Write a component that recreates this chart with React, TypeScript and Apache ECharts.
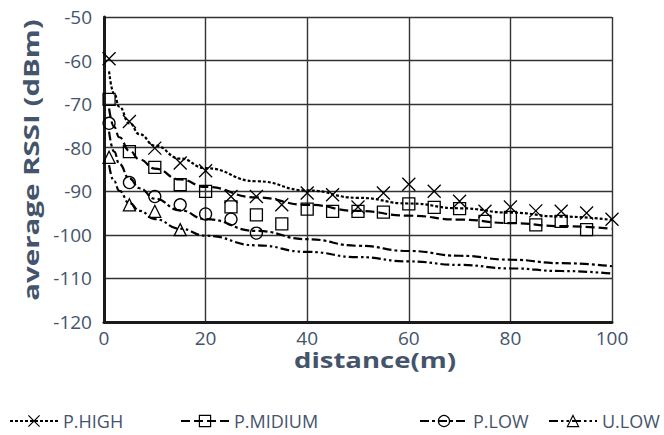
import React, { useEffect, useRef } from "react";
import * as echarts from "echarts";

// Measured markers (distance in m, average RSSI in dBm)
const highX = [1, 5, 10, 15, 20, 25, 30, 35, 40, 45, 50, 55, 60, 65, 70, 75, 80, 85, 90, 95, 100];
const highY = [-59.6, -74, -80.1, -83.5, -85.3, -91.2, -91.2, -93.1, -90.4, -90.8, -93.6, -90.4, -88.4, -90.0, -92.3, -94.6, -93.6, -94.5, -94.6, -95.0, -96.4];
const midX = [1, 5, 10, 15, 20, 25, 30, 35, 40, 45, 50, 55, 60, 65, 70, 75, 80, 85, 90, 95];
const midY = [-68.9, -80.9, -84.5, -88.5, -90.0, -93.6, -95.4, -97.5, -94.1, -94.6, -94.6, -94.8, -92.9, -93.7, -94.0, -96.9, -96.0, -97.7, -96.9, -98.8];
const lowX = [1, 5, 10, 15, 20, 25, 30];
const lowY = [-74.4, -88.0, -91.2, -93.1, -95.2, -96.4, -99.6];
const uLowX = [1, 5, 10, 15];
const uLowY = [-82.2, -93.1, -94.6, -98.8];

// Trend lines
const trendX = [1, 2, 3, 5, 7, 10, 15, 20, 30, 40, 50, 60, 70, 80, 90, 100];
const trendHigh = [-62.5, -67.6, -70.6, -74.4, -76.9, -79.5, -82.5, -84.7, -87.7, -89.8, -91.5, -92.8, -93.9, -94.9, -95.8, -96.6];
const trendMid = [-71.0, -75.2, -77.6, -80.7, -82.7, -84.8, -87.3, -89.0, -91.4, -93.1, -94.5, -95.6, -96.5, -97.3, -98.0, -98.6];
const trendLow = [-76.3, -80.9, -83.7, -87.1, -89.3, -91.7, -94.4, -96.4, -99.1, -101.0, -102.5, -103.7, -104.8, -105.7, -106.5, -107.2];
const trendULow = [-84.0, -87.7, -89.9, -92.7, -94.5, -96.4, -98.6, -100.2, -102.4, -103.9, -105.1, -106.1, -106.9, -107.7, -108.3, -108.9];

const seriesNames = ["P.HIGH", "P.MIDIUM", "P.LOW", "U.LOW"];
const xTitle = "distance(m)";
const yTitle = "average RSSI (dBm)";
const xTicks = { min: 0, max: 100, interval: 20 };
const yTicks = { min: -120, max: -50, interval: 10 };

const TEXT = "#44546a";
const FONT = "Open Sans";
const crossSymbol = "path://M0,0L10,10M10,0L0,10";

const pairs = (xs: number[], ys: number[]) => xs.map((x, i) => [x, ys[i]]);

export default function App() {
  const ref = useRef<HTMLDivElement>(null);
  useEffect(() => {
    if (!ref.current) return;
    const chart = echarts.init(ref.current, null, { renderer: "svg" });
    const symbols = [crossSymbol, "rect", "circle", "triangle"];
    const dashes = [[3, 2], [9, 4], [9, 3, 3, 3], [9, 3, 2.5, 3, 2.5, 3]];
    const trends = [trendHigh, trendMid, trendLow, trendULow];
    const marks = [pairs(highX, highY), pairs(midX, midY), pairs(lowX, lowY), pairs(uLowX, uLowY)];
    const sizes = [13, 12, 12, 12];
    const series: any[] = [];
    seriesNames.forEach((name, i) => {
      series.push({
        name,
        type: "line",
        data: pairs(trendX, trends[i]),
        smooth: true,
        smoothMonotone: "x",
        showSymbol: false,
        symbol: symbols[i],
        symbolSize: sizes[i],
        lineStyle: { color: "#000", width: 2.2, type: dashes[i] },
        itemStyle: { color: "transparent", borderColor: "#000", borderWidth: 1.3 },
        z: 2,
      });
    });
    seriesNames.forEach((name, i) => {
      series.push({
        name,
        type: "scatter",
        data: marks[i],
        symbol: symbols[i],
        symbolSize: sizes[i],
        itemStyle: { color: "transparent", borderColor: "#000", borderWidth: 1.3, opacity: 1 },
        z: 3,
      });
    });
    const legendLefts = [4, 175, 414, 543];
    chart.setOption({
      animation: false,
      textStyle: { fontFamily: FONT },
      grid: { left: 104, right: 52, top: 17, bottom: 113 },
      xAxis: {
        type: "value",
        min: xTicks.min,
        max: xTicks.max,
        interval: xTicks.interval,
        axisLine: { lineStyle: { color: "#1a1a1a", width: 3 } },
        axisTick: { show: false },
        axisLabel: { color: TEXT, fontSize: 19, margin: 6, fontFamily: FONT },
        splitLine: { show: true, lineStyle: { color: "#333", width: 1.4 } },
      },
      yAxis: {
        type: "value",
        min: yTicks.min,
        max: yTicks.max,
        interval: yTicks.interval,
        axisLine: { show: true, lineStyle: { color: "#1a1a1a", width: 3 } },
        axisTick: { show: false },
        axisLabel: { color: TEXT, fontSize: 19, margin: 12, fontFamily: FONT },
        splitLine: { show: true, lineStyle: { color: "#333", width: 1.4 } },
      },
      graphic: [
        {
          type: "text",
          x: 375,
          y: 359,
          scaleX: 1.25,
          style: {
            text: xTitle,
            fill: TEXT,
            font: `bold 22px "${FONT}"`,
            align: "center",
            verticalAlign: "middle",
          },
        },
        {
          type: "text",
          x: 31,
          y: 160,
          rotation: Math.PI / 2,
          scaleX: 1.34,
          style: {
            text: yTitle,
            fill: TEXT,
            font: `bold 22px "${FONT}"`,
            align: "center",
            verticalAlign: "middle",
          },
        },
      ],
      legend: seriesNames.map((name, i) => ({
        data: [{ name }],
        left: legendLefts[i],
        top: 407,
        itemWidth: 48,
        itemHeight: 14,
        itemGap: 4,
        selectedMode: false,
        textStyle: { color: TEXT, fontSize: 18, fontFamily: FONT },
        itemStyle: { borderWidth: 1.2 },
      })),
      series,
    });
    return () => chart.dispose();
  }, []);
  return (
    <div
      ref={ref}
      style={{ position: "fixed", left: 0, top: 0, width: 664, height: 435, background: "#fff" }}
    />
  );
}
